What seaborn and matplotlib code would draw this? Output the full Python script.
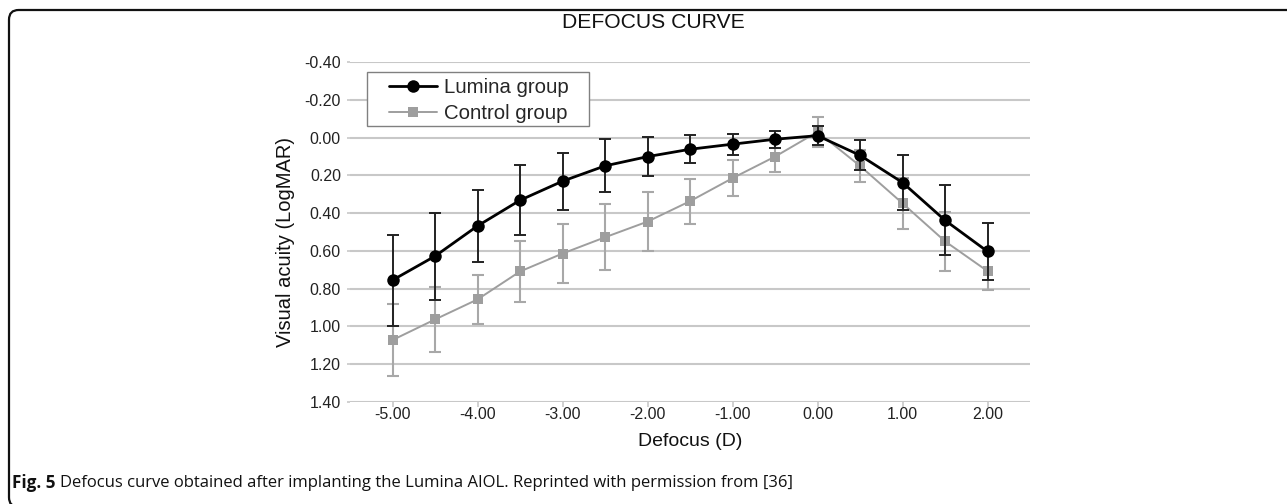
import pandas as pd
import matplotlib
matplotlib.use("Agg")
import matplotlib.pyplot as plt
from matplotlib.patches import FancyBboxPatch, Rectangle
import seaborn as sns

# Defocus values (D) and mean visual acuity (LogMAR) with SD
defocus = [-5.0, -4.5, -4.0, -3.5, -3.0, -2.5, -2.0, -1.5, -1.0, -0.5, 0.0, 0.5, 1.0, 1.5, 2.0]
lumina_mean = [0.755, 0.628, 0.468, 0.332, 0.231, 0.150, 0.101, 0.062, 0.035, 0.009, -0.01, 0.094, 0.238, 0.438, 0.603]
lumina_sd = [0.24, 0.23, 0.19, 0.185, 0.15, 0.14, 0.105, 0.075, 0.055, 0.045, 0.05, 0.08, 0.145, 0.185, 0.153]
control_mean = [1.072, 0.963, 0.857, 0.709, 0.614, 0.528, 0.445, 0.337, 0.215, 0.101, -0.03, 0.150, 0.348, 0.549, 0.707]
control_sd = [0.19, 0.17, 0.13, 0.16, 0.155, 0.175, 0.155, 0.12, 0.095, 0.08, 0.08, 0.085, 0.135, 0.155, 0.10]

yticks = [-0.4, -0.2, 0.0, 0.2, 0.4, 0.6, 0.8, 1.0, 1.2, 1.4]
xticks = [-5, -4, -3, -2, -1, 0, 1, 2]

df = pd.DataFrame({
    "Defocus": defocus * 2,
    "VA": lumina_mean + control_mean,
    "Group": ["Lumina group"] * len(defocus) + ["Control group"] * len(defocus),
})

sns.set_style("white")
plt.rcParams["font.family"] = ["Liberation Sans", "DejaVu Sans"]

W, H = 1287, 504
AX_L, AX_T, AX_W, AX_H = 350, 62, 680, 340
fig = plt.figure(figsize=(W / 100, H / 100), dpi=100)
ax = fig.add_axes([AX_L / W, 1 - (AX_T + AX_H) / H, AX_W / W, AX_H / H])

black = "#000000"
gray = "#9e9e9e"

# error bars first
ax.errorbar(defocus, control_mean, yerr=control_sd, fmt="none", ecolor="#a8a8a8",
            elinewidth=1.5, capsize=4, capthick=1.5, zorder=2)
ax.errorbar(defocus, lumina_mean, yerr=lumina_sd, fmt="none", ecolor="#222222",
            elinewidth=1.4, capsize=4, capthick=1.4, zorder=4)

sns.lineplot(data=df[df.Group == "Control group"], x="Defocus", y="VA", color=gray,
             marker="s", markersize=7, markeredgewidth=0, linewidth=1.4,
             label="Control group", ax=ax, zorder=3)
sns.lineplot(data=df[df.Group == "Lumina group"], x="Defocus", y="VA", color=black,
             marker="o", markersize=9, markeredgewidth=0, linewidth=2,
             label="Lumina group", ax=ax, zorder=5)

ax.set_xlim(-5.5, 2.5)
ax.set_ylim(1.4, -0.4)
ax.set_yticks(yticks)
ax.set_yticklabels([f"{v:.2f}" for v in yticks])
ax.set_xticks(xticks)
ax.set_xticklabels([f"{v:.2f}" for v in xticks])
ax.yaxis.grid(True, color="#c8c8c8", linewidth=1.5)
ax.xaxis.grid(False)
for s in ax.spines.values():
    s.set_visible(False)
ax.tick_params(axis="both", labelsize=11.5, colors="#c8c8c8", labelcolor="#222222", width=1.2)
ax.tick_params(axis="x", bottom=True, direction="out", length=3.8, pad=0)
ax.tick_params(axis="y", left=True, direction="out", length=2.5, pad=4)
ax.set_xlabel("Defocus (D)", fontsize=14, color="#111111", labelpad=8)
ax.set_ylabel("Visual acuity (LogMAR)", fontsize=14.5, color="#111111")
ax.yaxis.set_label_coords((295 - AX_L) / AX_W, 1 - (242 - AX_T) / AX_H)

# legend without its own frame, box drawn separately
h, l = ax.get_legend_handles_labels()
leg = ax.legend(h[::-1], l[::-1], loc="upper left",
                bbox_to_anchor=((389 - AX_L) / AX_W, 1 - (78 - AX_T) / AX_H),
                borderaxespad=0, borderpad=0, fontsize=14.7, frameon=False,
                handlelength=2.35, handletextpad=0.35, labelspacing=0.36)
leg.set_zorder(7)
ax.add_patch(Rectangle(((367 - AX_L) / AX_W, 1 - (126 - AX_T) / AX_H),
                       222 / AX_W, 54 / AX_H, transform=ax.transAxes,
                       facecolor="white", edgecolor="#808080", linewidth=1.0,
                       zorder=6, clip_on=False))

fig.text(653 / W, 1 - 23 / H, "DEFOCUS CURVE", ha="center", va="center",
         fontsize=15.2, color="#111111")

# caption
cap_y = 1 - 483 / H
cap_font = ["Open Sans", "DejaVu Sans"]
t = fig.text(12 / W, cap_y, "Fig. 5", ha="left", va="center", fontsize=12.3,
             fontweight="bold", family=cap_font, color="#111111")
fig.canvas.draw()
bb = t.get_window_extent()
fig.text((bb.x1 + 5) / W, cap_y, "Defocus curve obtained after implanting the Lumina AIOL. "
         "Reprinted with permission from [36]", ha="left", va="center", fontsize=12.0,
         family=cap_font, color="#111111")

# rounded frame (top and left visible, right/bottom run off the figure)
frame = FancyBboxPatch((9 / W, -3 / H), 1400 / W, (H - 10 + 3) / H,
                       boxstyle="round,pad=0,rounding_size=0.0075",
                       transform=fig.transFigure, fill=False, edgecolor="#111111",
                       linewidth=1.6, clip_on=False, mutation_aspect=W / H)
fig.patches.append(frame)

fig.savefig("out.png", dpi=100)
